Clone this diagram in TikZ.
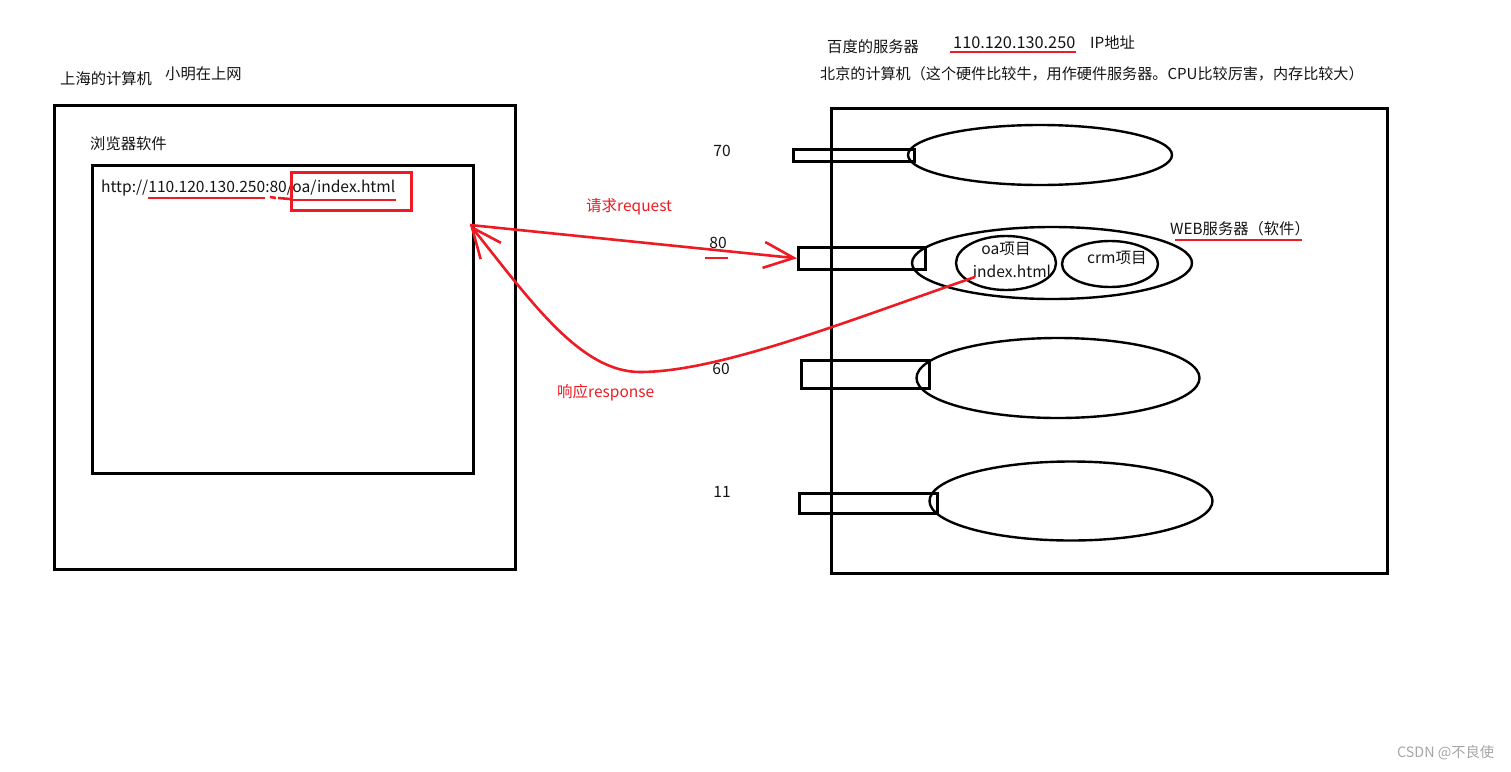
\documentclass[tikz,border=0pt]{standalone}
\usepackage{fontspec}
\setmainfont{Noto Sans CJK SC}
\usetikzlibrary{shapes.geometric,arrows.meta}
\definecolor{paintred}{RGB}{237,28,36}
\definecolor{ink}{RGB}{20,20,20}
\begin{document}
\begin{tikzpicture}[x=1pt,y=-1pt,
  box/.style={draw=black, line width=3pt, inner sep=0pt, anchor=north west},
  port/.style={draw=black, line width=2.6pt, inner sep=0pt, anchor=north west},
  ell/.style={draw=black, ellipse, line width=2.4pt, inner sep=0pt},
  txt/.style={text=ink, inner sep=0pt, anchor=west, font=\fontsize{15.3}{18}\selectfont},
  ltxt/.style={txt, font=\fontsize{15.6}{18}\selectfont},
  rtxt/.style={text=paintred, inner sep=0pt, anchor=west, font=\fontsize{15.5}{18}\selectfont},
  redline/.style={draw=paintred, line width=2.6pt},
  arr/.style={redline, -{Straight Barb[length=30pt,width=26pt,line width=2.6pt]}},
]
\useasboundingbox (0,0) rectangle (1511,771);
% left computer
\node[box, minimum width=461pt, minimum height=464pt] (shanghai) at (53,104) {};
\node[box, minimum width=381pt, minimum height=308pt] (browser) at (91,164) {};
\node[txt] (shlabel) at (60,79) {上海的计算机};
\node[txt] (xm) at (165,74) {小明在上网};
\node[txt] (brlabel) at (90,144) {浏览器软件};
\node[ltxt] (url) at (101,188) {http://110.120.130.250:80/oa/index.html};
\draw[redline] (148,198) -- (265,198);
\draw[redline] (270,197) -- (276,198) (278,198) -- (290,199);
\draw[redline] (293,200) -- (396,200);
\node[draw=paintred, line width=2.6pt, inner sep=0pt, anchor=north west, minimum width=120pt, minimum height=38pt] (urlbox) at (290,171) {};
% right computer
\node[txt] (baidu) at (827,47) {百度的服务器};
\node[txt, font=\fontsize{16.3}{19}\selectfont] (ip) at (953,43) {110.120.130.250};
\draw[redline] (950,52) -- (1076,52);
\node[txt] (iplabel) at (1090,43) {IP地址};
\node[txt, font=\fontsize{15.1}{18}\selectfont] (bj) at (820,74) {北京的计算机（这个硬件比较牛，用作硬件服务器。CPU比较厉害，内存比较大）};
\node[box, minimum width=556pt, minimum height=465pt] (beijing) at (830,107) {};
% ports
\node[port, minimum width=121pt, minimum height=12pt] (p70) at (792,148) {};
\node[port, minimum width=127pt, minimum height=22pt] (p80) at (797,246) {};
\node[port, minimum width=128pt, minimum height=28pt] (p60) at (800,359) {};
\node[port, minimum width=138pt, minimum height=20pt] (p11) at (798,492) {};
\node[ltxt, anchor=center] (n70) at (722,151) {70};
\node[ltxt, anchor=center] (n80) at (718,243) {80};
\draw[redline] (705,258) -- (728,258);
\node[ltxt, anchor=center] (n60) at (721,369) {60};
\node[ltxt, anchor=center] (n11) at (722,492) {11};
% ellipses
\node[ell, minimum width=264pt, minimum height=60pt] (e70) at (1040,155) {};
\node[ell, minimum width=280pt, minimum height=72pt] (e80) at (1052,263) {};
\node[ell, minimum width=283pt, minimum height=80pt] (e60) at (1058,378) {};
\node[ell, minimum width=283pt, minimum height=79pt] (e11) at (1071,501) {};
\node[ell, minimum width=100pt, minimum height=54pt] (oa) at (1006,263) {};
\node[ell, minimum width=96pt, minimum height=46pt] (crm) at (1110,264) {};
\node[ltxt, anchor=center] (oalabel) at (1006,249) {oa项目};
\node[ltxt, anchor=center] (idx) at (1012,271) {index.html};
\node[ltxt, anchor=center] (crmlabel) at (1117,258) {crm项目};
\node[txt] (web) at (1170,229) {WEB服务器（软件）};
\draw[redline] (1175,240) -- (1302,240);
% request / response
\coordinate (tip) at (470,225);
\coordinate (respStart) at (975,277);
\draw[arr] (tip) -- (p80.west);
\node[rtxt] (req) at (586,207) {请求request};
\draw[arr] (respStart) .. controls (850,320) and (720,372) .. (640,372)
  .. controls (580,372) and (530,300) .. (tip);
\node[rtxt] (resp) at (557,393) {响应response};
% watermark
\node[inner sep=0pt, anchor=west, text={rgb,255:red,165;green,165;blue,165}, font=\fontsize{14.3}{16}\selectfont] (wm) at (1397,753) {CSDN @不良使};
\end{tikzpicture}
\end{document}
